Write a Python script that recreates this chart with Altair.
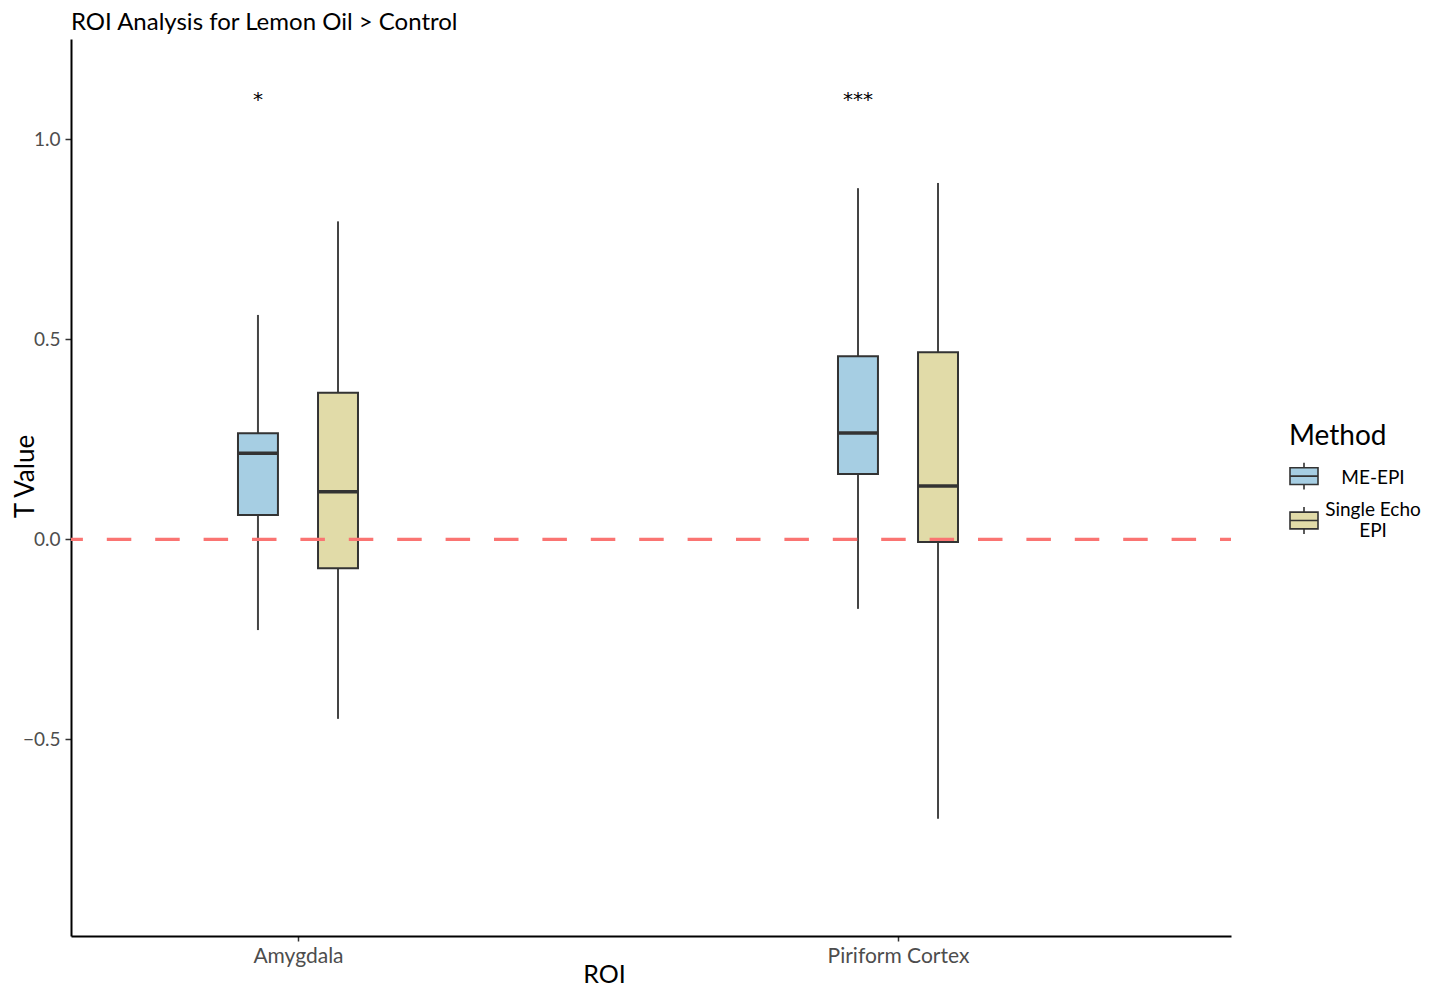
import altair as alt
import pandas as pd

# ---- data ----
roi_order = ["Amygdala", "Piriform Cortex"]
method_order = ["ME-EPI", "Single Echo EPI"]

roi = ["Amygdala", "Amygdala", "Piriform Cortex", "Piriform Cortex"]
method = ["ME-EPI", "Single Echo EPI", "ME-EPI", "Single Echo EPI"]
lower = [-0.227, -0.449, -0.174, -0.699]
q1 = [0.061, -0.0725, 0.163, -0.007]
median = [0.215, 0.119, 0.266, 0.133]
q3 = [0.265, 0.3665, 0.458, 0.468]
upper = [0.561, 0.795, 0.878, 0.891]

sig_roi = ["Amygdala", "Piriform Cortex"]
sig_label = ["*", "***"]
sig_y = [1.103, 1.103]

ref_y = [0.0]

fill_colors = ["#A6CEE3", "#E1DBA8"]
edge_colors = ["#333333", "#333333"]

FONT = "Lato"

df = pd.DataFrame({"roi": roi, "method": method, "lower": lower, "q1": q1,
                   "median": median, "q3": q3, "upper": upper})
sig_df = pd.DataFrame({"roi": sig_roi, "label": sig_label, "y": sig_y})
ref_df = pd.DataFrame({"y": ref_y})

order_js = "[" + ",".join("'%s'" % r for r in roi_order) + "]"
dodge = 0.0667
half = 0.0333

xscale = alt.Scale(domain=[0.6217, 2.555], nice=False, zero=False)
yscale = alt.Scale(domain=[-0.992, 1.251], nice=False, zero=False)
fill_scale = alt.Scale(domain=method_order, range=fill_colors)
stroke_scale = alt.Scale(domain=method_order, range=edge_colors)


def glyph(shift):
    # legend key: box with median line and short whiskers, shifted vertically
    def f(v):
        return "%.3f" % (v + shift)
    return ("M-1,{a}H1V{b}H-1Z M-1,{m}H1 M0,{a}V{t} M0,{b}V{u}"
            .format(a=f(-0.6), b=f(0.6), m=f(0), t=f(-0.96), u=f(0.96)))


shape_scale = alt.Scale(domain=method_order, range=[glyph(-0.1), glyph(0.75)])

xaxis = alt.Axis(values=[1, 2], labelExpr=order_js + "[datum.value - 1]",
                 title="ROI", titleX=533, titleY=46, titleBaseline="alphabetic",
                 titleFontSize=25, titleFontWeight="normal", titleColor="#000",
                 labelFontSize=21, labelColor="#4D4D4D", labelPadding=4,
                 tickSize=5, tickColor="#333", tickWidth=1.5,
                 domainColor="#000", domainWidth=2, grid=False)
yaxis = alt.Axis(values=[-0.5, 0, 0.5, 1.0], format=".1f",
                 title="T Value", titleX=-46, titleY=437, titleAngle=-90,
                 titleBaseline="middle", titleAlign="center",
                 titleFontSize=26, titleFontWeight="normal", titleColor="#000",
                 labelFontSize=19, labelColor="#4D4D4D", labelPadding=5,
                 tickSize=6, tickColor="#333", tickWidth=1.5,
                 domainColor="#000", domainWidth=2, grid=False)

label_expr = "datum.label == '%s' ? ['Single Echo', 'EPI'] : datum.label" % method_order[1]

leg = alt.Legend(
    title="Method", orient="none", legendX=1218, legendY=384,
    padding=0, symbolSize=784, symbolOpacity=1,
    symbolStrokeWidth=1.6,
    labelAlign="center", labelOffset=54, labelBaseline="middle",
    labelExpr=label_expr,
    labelFont=FONT, labelFontSize=19, labelColor="#000",
    titleFont=FONT, titleFontSize=28, titleFontWeight="normal",
    titleColor="#000", titlePadding=11.5, rowPadding=1.5,
    labelLimit=300)

base = alt.Chart(df).transform_calculate(
    pos="indexof(%s, datum.roi) + 1 + (datum.method == '%s' ? -%f : %f)" % (order_js, method_order[0], dodge, dodge)
).transform_calculate(
    xl="datum.pos - %f" % half, xr="datum.pos + %f" % half
)

whisk_lo = base.mark_rule(color="#444", strokeWidth=2).encode(
    x=alt.X("pos:Q", scale=xscale, axis=xaxis),
    y=alt.Y("lower:Q", scale=yscale, axis=yaxis),
    y2="q1:Q",
)
whisk_hi = base.mark_rule(color="#444", strokeWidth=2).encode(
    x=alt.X("pos:Q", scale=xscale),
    y=alt.Y("q3:Q", scale=yscale),
    y2="upper:Q",
)

box = base.mark_rect(strokeWidth=2).encode(
    x=alt.X("xl:Q", scale=xscale),
    x2="xr:Q",
    y=alt.Y("q1:Q", scale=yscale),
    y2="q3:Q",
    fill=alt.Fill("method:N", scale=fill_scale, legend=leg),
    stroke=alt.Stroke("method:N", scale=stroke_scale, legend=leg),
)

# invisible points that only carry the legend key glyphs
keys = base.mark_point(filled=True, opacity=0).encode(
    x=alt.X("pos:Q", scale=xscale),
    y=alt.Y("median:Q", scale=yscale),
    fill=alt.Fill("method:N", scale=fill_scale, legend=leg),
    stroke=alt.Stroke("method:N", scale=stroke_scale, legend=leg),
    shape=alt.Shape("method:N", scale=shape_scale, legend=leg),
)

med = base.mark_rule(color="#333", strokeWidth=3.5).encode(
    x=alt.X("xl:Q", scale=xscale),
    x2="xr:Q",
    y=alt.Y("median:Q", scale=yscale),
)

ref = alt.Chart(ref_df).mark_rule(color="#FA7472", strokeWidth=3.2,
                                  strokeDash=[24.5, 23.9], strokeDashOffset=13.5).encode(
    y=alt.Y("y:Q", scale=yscale),
)

stars = alt.Chart(sig_df).transform_calculate(
    pos="indexof(%s, datum.roi) + 1 - %f" % (order_js, dodge)
).mark_text(fontSize=20, font="DejaVu Sans", color="#000", baseline="alphabetic", dy=8).encode(
    x=alt.X("pos:Q", scale=xscale),
    y=alt.Y("y:Q", scale=yscale),
    text="label:N",
)

chart = alt.layer(whisk_lo, whisk_hi, box, keys, med, ref, stars).properties(
    width=1160, height=897,
    title=alt.TitleParams("ROI Analysis for Lemon Oil > Control", anchor="start",
                          frame="group", fontSize=24, font=FONT, fontWeight="normal",
                          color="#000", offset=4),
    autosize=alt.AutoSizeParams(type="none"),
    padding={"left": 63, "top": 31, "right": 191, "bottom": 52},
).configure_view(stroke=None).configure_axis(labelFont=FONT, titleFont=FONT)

chart.save("out.html", embed_options={"renderer": "svg", "actions": False})
